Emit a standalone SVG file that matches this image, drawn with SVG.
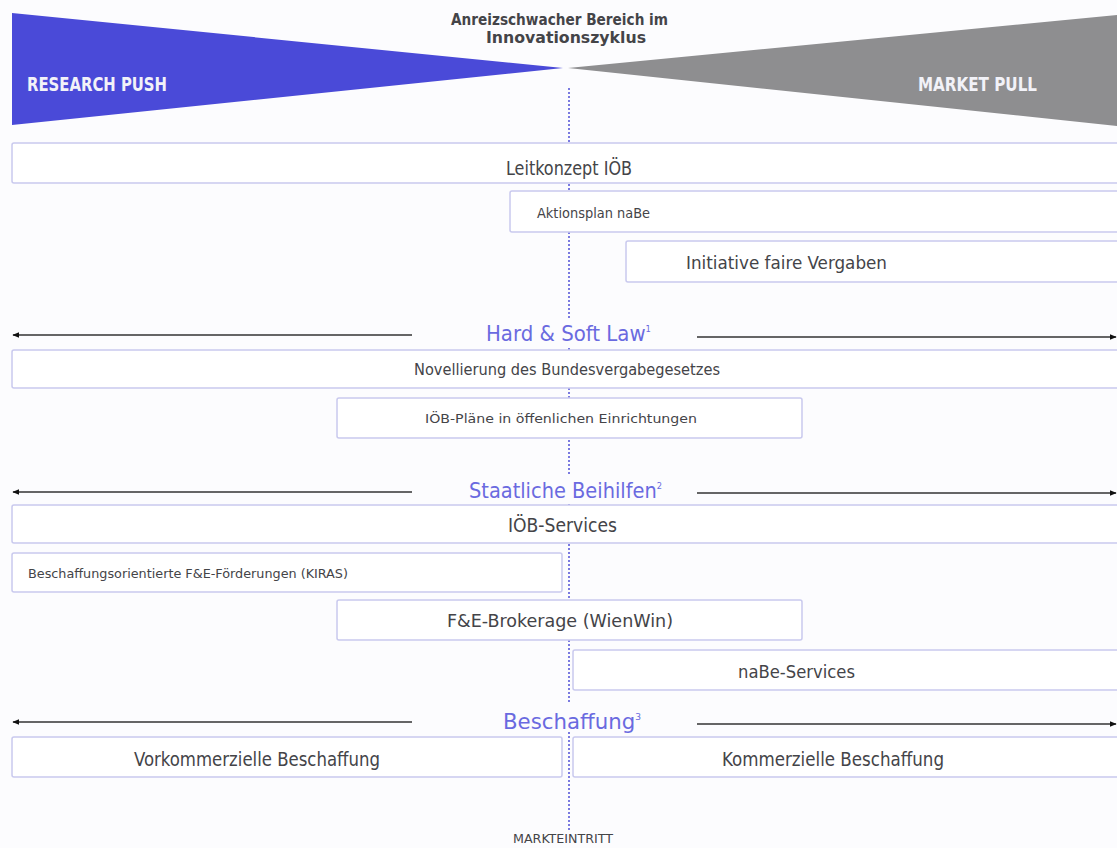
<svg xmlns="http://www.w3.org/2000/svg" width="1117" height="848" viewBox="0 0 1117 848">
<defs>
<style>
.bx{fill:#ffffff;stroke:#c9c9ee;stroke-width:1.5}
.t{font-family:"DejaVu Sans Condensed","DejaVu Sans","Liberation Sans",sans-serif;fill:#444448}
.sec{font-family:"DejaVu Sans Condensed","DejaVu Sans","Liberation Sans",sans-serif;fill:#6a6ae0;font-size:21px}
.wl{font-family:"DejaVu Sans Condensed","DejaVu Sans","Liberation Sans",sans-serif;fill:#f2f2f8;font-size:19px;font-weight:600}
.arr{stroke:#333;stroke-width:1.3;fill:none;marker-end:url(#ah)}
</style>
<marker id="ah" viewBox="0 0 10 10" refX="9" refY="5" markerWidth="7" markerHeight="7" orient="auto" markerUnits="userSpaceOnUse">
<path d="M0,1 L10,5 L0,9 z" fill="#111"/>
</marker>
</defs>
<rect width="1117" height="848" fill="#fcfcfe"/>

<g id="triangles">
<polygon points="12,13 563,68 12,125" fill="#4a4ad8"/>
<polygon points="568,68 1117,15 1117,126" fill="#8e8e90"/>
<text class="wl" x="27" y="91" textLength="140" lengthAdjust="spacingAndGlyphs">RESEARCH PUSH</text>
<text class="wl" x="918" y="91" textLength="119" lengthAdjust="spacingAndGlyphs">MARKET PULL</text>
</g>

<g id="title">
<text class="t" x="451" y="25" font-size="16" font-weight="600" fill="#55556a" textLength="217" lengthAdjust="spacingAndGlyphs">Anreizschwacher Bereich im</text>
<text class="t" x="486" y="43" font-size="16" font-weight="600" fill="#55556a" textLength="160" lengthAdjust="spacingAndGlyphs">Innovationszyklus</text>
</g>

<g id="connectors">
<line x1="569" y1="88" x2="569" y2="830" stroke="#7a7ae0" stroke-width="2" stroke-dasharray="2 2"/>
<line class="arr" x1="412" y1="335" x2="13" y2="335"/>
<line class="arr" x1="697" y1="337" x2="1116" y2="337"/>
<line class="arr" x1="412" y1="492" x2="13" y2="492"/>
<line class="arr" x1="697" y1="493" x2="1116" y2="493"/>
<line class="arr" x1="412" y1="722" x2="13" y2="722"/>
<line class="arr" x1="697" y1="724" x2="1116" y2="724"/>
</g>

<g id="leitkonzept">
<rect class="bx" x="12" y="143" width="1115" height="40" rx="2"/>
<text class="t" x="506" y="175" font-size="19" textLength="126" lengthAdjust="spacingAndGlyphs">Leitkonzept IÖB</text>
</g>
<g id="aktionsplan">
<rect class="bx" x="510" y="191" width="617" height="41" rx="2"/>
<text class="t" x="537" y="218" font-size="14" textLength="113" lengthAdjust="spacingAndGlyphs">Aktionsplan naBe</text>
</g>
<g id="initiative">
<rect class="bx" x="626" y="241" width="501" height="41" rx="2"/>
<text class="t" x="686" y="269" font-size="18" textLength="201" lengthAdjust="spacingAndGlyphs">Initiative faire Vergaben</text>
</g>

<g id="label-law">
<rect x="430" y="318" width="260" height="28" fill="#fcfcfe"/>
<text class="sec" x="486" y="341" textLength="165" lengthAdjust="spacingAndGlyphs">Hard &amp; Soft Law<tspan font-size="9" dy="-9">1</tspan></text>
</g>

<g id="novellierung">
<rect class="bx" x="12" y="350" width="1115" height="38" rx="2"/>
<text class="t" x="414" y="375" font-size="15" textLength="306" lengthAdjust="spacingAndGlyphs">Novellierung des Bundesvergabegesetzes</text>
</g>
<g id="ioeb-plaene">
<rect class="bx" x="337" y="398" width="465" height="40" rx="2"/>
<text class="t" x="425" y="423" font-size="11.5" textLength="272" lengthAdjust="spacingAndGlyphs">IÖB-Pläne in öffenlichen Einrichtungen</text>
</g>

<g id="label-beihilfen">
<rect x="430" y="474" width="260" height="28" fill="#fcfcfe"/>
<text class="sec" x="469" y="498" textLength="193" lengthAdjust="spacingAndGlyphs">Staatliche Beihilfen<tspan font-size="9" dy="-9">2</tspan></text>
</g>

<g id="ioeb-services">
<rect class="bx" x="12" y="505" width="1115" height="38" rx="2"/>
<text class="t" x="508" y="532" font-size="19" textLength="109" lengthAdjust="spacingAndGlyphs">IÖB-Services</text>
</g>
<g id="kiras">
<rect class="bx" x="12" y="553" width="550" height="39" rx="2"/>
<text class="t" x="28" y="578" font-size="12.5" textLength="320" lengthAdjust="spacingAndGlyphs">Beschaffungsorientierte F&amp;E-Förderungen (KIRAS)</text>
</g>
<g id="brokerage">
<rect class="bx" x="337" y="600" width="465" height="40" rx="2"/>
<text class="t" x="447" y="627" font-size="18" textLength="226" lengthAdjust="spacingAndGlyphs">F&amp;E-Brokerage (WienWin)</text>
</g>
<g id="nabe-services">
<rect class="bx" x="573" y="650" width="554" height="40" rx="2"/>
<text class="t" x="738" y="678" font-size="18" textLength="117" lengthAdjust="spacingAndGlyphs">naBe-Services</text>
</g>

<g id="label-beschaffung">
<rect x="430" y="704" width="260" height="28" fill="#fcfcfe"/>
<text class="sec" x="503" y="729" textLength="138" lengthAdjust="spacingAndGlyphs">Beschaffung<tspan font-size="9" dy="-9">3</tspan></text>
</g>

<g id="vorkommerziell">
<rect class="bx" x="12" y="737" width="550" height="40" rx="2"/>
<text class="t" x="134" y="766" font-size="19" textLength="246" lengthAdjust="spacingAndGlyphs">Vorkommerzielle Beschaffung</text>
</g>
<g id="kommerziell">
<rect class="bx" x="573" y="737" width="554" height="40" rx="2"/>
<text class="t" x="722" y="766" font-size="19" textLength="222" lengthAdjust="spacingAndGlyphs">Kommerzielle Beschaffung</text>
</g>

<g id="markteintritt">
<text class="t" x="513" y="843" font-size="12" textLength="100" lengthAdjust="spacingAndGlyphs">MARKTEINTRITT</text>
</g>
</svg>
